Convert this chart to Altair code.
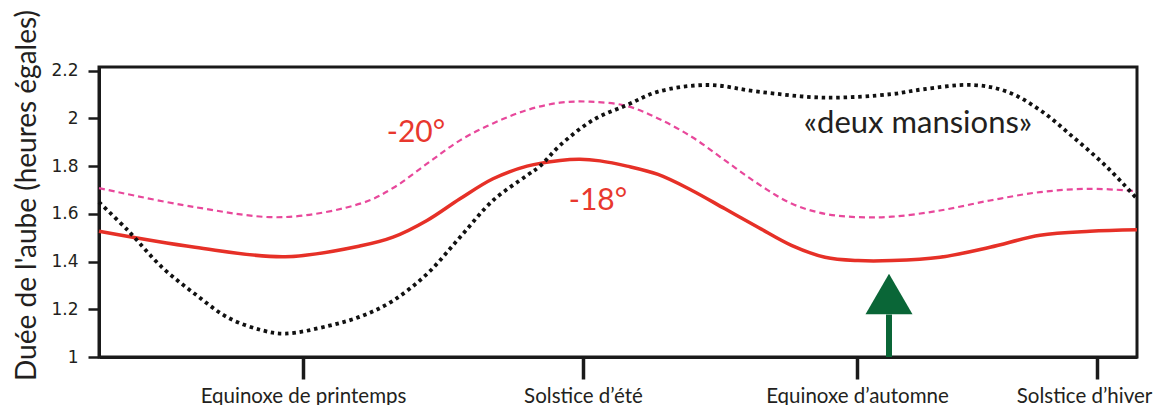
import altair as alt
import pandas as pd

# ---- data (x = position along the year axis, arbitrary units; y = hours) ----
red_x = [0, 96, 186, 263, 294, 328, 361, 394, 428, 461, 481, 501, 528, 559, 593, 626,
         659, 693, 726, 759, 793, 841, 891, 941, 991, 1038]
red_y = [1.527, 1.46, 1.42, 1.467, 1.502, 1.572, 1.663, 1.747, 1.80, 1.824, 1.829,
         1.822, 1.80, 1.765, 1.698, 1.621, 1.544, 1.467, 1.418, 1.404, 1.404, 1.418,
         1.46, 1.51, 1.527, 1.533]

pink_x = [0, 96, 183, 263, 294, 328, 361, 394, 428, 461, 491, 528, 559, 593, 626,
          659, 693, 726, 759, 793, 841, 891, 941, 991, 1038]
pink_y = [1.708, 1.628, 1.586, 1.645, 1.708, 1.81, 1.908, 1.979, 2.035, 2.066, 2.07,
          2.052, 2.0, 1.922, 1.824, 1.726, 1.642, 1.60, 1.586, 1.588, 1.614, 1.656,
          1.691, 1.705, 1.695]

black_x = [0, 29, 63, 96, 129, 163, 186, 229, 263, 294, 328, 361, 394, 428, 441,
           461, 494, 528, 559, 609, 659, 726, 793, 824, 874, 908, 941, 974, 1008, 1038]
black_y = [1.649, 1.53, 1.376, 1.264, 1.165, 1.112, 1.098, 1.13, 1.172, 1.236, 1.348,
           1.502, 1.656, 1.761, 1.80, 1.887, 1.993, 2.056, 2.112, 2.14, 2.112, 2.087,
           2.102, 2.122, 2.14, 2.112, 2.035, 1.922, 1.796, 1.663]

tick_pos = [204, 484, 758, 998]
tick_labels = ["Equinoxe de printemps", "Solstice d’été", "Equinoxe d’automne", "Solstice d’hiver"]
y_ticks = [1, 1.2, 1.4, 1.6, 1.8, 2, 2.2]

ann_text = ["-20°", "-18°", "«deux mansions»"]
ann_x = [317, 499, 819]
ann_y = [1.938, 1.653, 1.976]
ann_size = [30, 30, 31]
ann_color = ["#e8382e", "#e8382e", "#231f20"]

arrow_x = [790]
arrow_head_y = [1.264]
arrow_base_y = [1.0]
arrow_shaft_top = [1.178]

# ---- build ----
red = pd.DataFrame({"x": red_x, "y": red_y})
pink = pd.DataFrame({"x": pink_x, "y": pink_y})
black = pd.DataFrame({"x": black_x, "y": black_y})
ann = pd.DataFrame({"x": ann_x, "y": ann_y, "t": ann_text, "c": ann_color, "s": ann_size})
arrow = pd.DataFrame({"x": arrow_x, "yh": arrow_head_y, "y0": arrow_base_y, "y1": arrow_shaft_top})

expr = " : ".join(
    f"datum.value == {p} ? '{l}'" for p, l in zip(tick_pos, tick_labels)
) + " : ''"

xscale = alt.Scale(domain=[0, 1038], nice=False, zero=False)
yscale = alt.Scale(domain=[1, 2.2154], nice=False, zero=False)

xaxis = alt.Axis(values=tick_pos, labelExpr=expr, title=None, grid=False,
                 tickSize=22, tickWidth=3.5, tickColor="#1a1a1a",
                 domainColor="#1a1a1a", domainWidth=3,
                 labelFont="Lato", labelFontSize=20.5, labelColor="#231f20",
                 labelPadding=7, labelFlush=False, labelOverlap=False, labelLimit=500,
                 labelOffset={"condition": {"test": f"datum.value == {tick_pos[-1]}",
                                            "value": -13}, "value": 0})
yaxis = alt.Axis(values=y_ticks, format="~g", title="Duée de l'aube (heures égales)",
                 grid=False, tickSize=11, tickWidth=2.5, tickColor="#1a1a1a",
                 domainColor="#1a1a1a", domainWidth=3,
                 labelFont="DejaVu Sans", labelFontSize=17, labelColor="#231f20",
                 labelPadding=10,
                 titleFont="Lato", titleFontSize=28, titleFontWeight="normal",
                 titleColor="#231f20", titleX=-72, titleY=128, titleBaseline="middle",
                 titleAngle=270)

base_x = alt.X("x:Q", scale=xscale, axis=xaxis)
base_y = alt.Y("y:Q", scale=yscale, axis=yaxis)

l_pink = alt.Chart(pink).mark_line(color="#e8489b", strokeWidth=2.2, strokeDash=[6, 4],
                                   interpolate="catmull-rom").encode(x=base_x, y=base_y)
l_red = alt.Chart(red).mark_line(color="#e63027", strokeWidth=3.5,
                                 interpolate="catmull-rom").encode(x="x:Q", y="y:Q")
l_black = alt.Chart(black).mark_line(color="#111111", strokeWidth=3.8, strokeDash=[3.5, 3.8],
                                     interpolate="catmull-rom").encode(x="x:Q", y="y:Q")

texts = alt.Chart(ann).mark_text(font="Lato", baseline="middle",
                                 align="center").encode(
    x="x:Q", y="y:Q", text="t:N",
    color=alt.Color("c:N", scale=None),
    size=alt.Size("s:Q", scale=None))

shaft = alt.Chart(arrow).mark_rule(color="#0a6637", strokeWidth=6).encode(
    x="x:Q", y="y0:Q", y2="y1:Q")
head = alt.Chart(arrow).mark_point(shape="triangle-up", size=2209, filled=True,
                                   color="#0a6637", opacity=1).encode(x="x:Q", y="yh:Q")

chart = alt.layer(l_pink, l_red, l_black, texts, shaft, head).properties(
    width=1038, height=290,
    background="white",
    autosize=alt.AutoSizeParams(type="none"),
    padding={"left": 91, "top": 59, "right": 18, "bottom": 48},
).configure_view(stroke="#1a1a1a", strokeWidth=3)

chart.save("out.html", embed_options={"renderer": "svg", "actions": False})
